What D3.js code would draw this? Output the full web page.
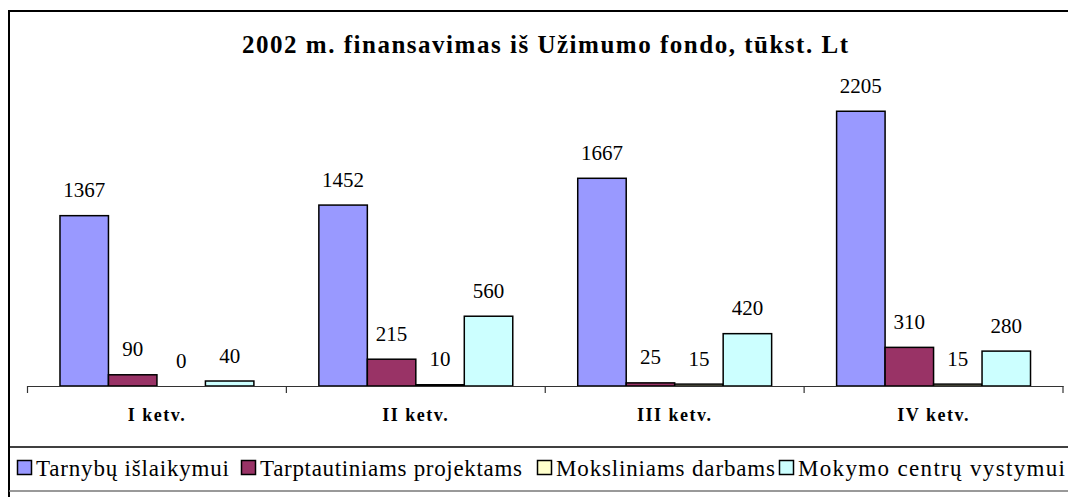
<!DOCTYPE html>
<html>
<head>
<meta charset="utf-8">
<script src="https://cdn.jsdelivr.net/npm/d3@7"></script>
</head>
<body style="margin:0">
<svg id="chart" width="1068" height="497" font-family="Liberation Serif" style="display:block"></svg>
<script>
// ── Data ──────────────────────────────────────────────────────────────────
const title = '2002 m. finansavimas iš Užimumo fondo, tūkst. Lt';
const quarters = ['I ketv.', 'II ketv.', 'III ketv.', 'IV ketv.'];
const seriesNames = ['Tarnybų išlaikymui', 'Tarptautiniams projektams', 'Moksliniams darbams', 'Mokymo centrų vystymui'];
const seriesColors = ['#9999ff', '#993366', '#ffffcc', '#ccffff'];
const tarnybu = [1367, 1452, 1667, 2205];
const tarptautiniams = [90, 215, 25, 310];
const moksliniams = [0, 10, 15, 15];
const mokymo = [40, 560, 420, 280];
const seriesValues = [tarnybu, tarptautiniams, moksliniams, mokymo];
const yMax = 2500;

const svg = d3.select('#chart');

function serif(sel) {
  return sel.attr('font-family', 'Liberation Serif').style('font-family', '"Liberation Serif"');
}

// chart frame (right and bottom edges fall outside the picture)
svg.append('rect')
  .attr('x', 9).attr('y', 11)
  .attr('width', 1100).attr('height', 520)
  .attr('fill', 'none').attr('stroke', '#000').attr('stroke-width', 2);

// title
serif(svg.append('text'))
  .attr('x', 545).attr('y', 53)
  .attr('text-anchor', 'middle')
  .attr('font-size', 25).attr('font-weight', 'bold')
  .attr('textLength', 606).attr('lengthAdjust', 'spacing')
  .text(title);

// ── Scales ────────────────────────────────────────────────────────────────
const x0 = d3.scaleBand().domain(quarters).range([27.5, 1063]).padding(0);
const x1 = d3.scaleBand().domain(seriesNames).range([0, x0.bandwidth()])
  .paddingInner(0).paddingOuter(0.67);
const y = d3.scaleLinear().domain([0, yMax]).range([386, 74.5]);

const g = svg.append('g');

// bars + value labels
const groups = g.selectAll('.grp')
  .data(quarters)
  .enter().append('g')
  .attr('class', 'grp')
  .attr('transform', q => `translate(${x0(q)},0)`);

groups.each(function (q, qi) {
  const cells = seriesNames.map((s, si) => ({ s, si, v: seriesValues[si][qi] }));
  const sel = d3.select(this);

  sel.selectAll('rect')
    .data(cells.filter(c => c.v > 0))
    .enter().append('rect')
    .attr('x', c => x1(c.s))
    .attr('y', c => y(c.v))
    .attr('width', x1.bandwidth())
    .attr('height', c => y(0) - y(c.v))
    .attr('fill', c => seriesColors[c.si])
    .attr('stroke', '#000')
    .attr('stroke-width', 1.5);

  serif(sel.selectAll('text')
    .data(cells)
    .enter().append('text'))
    .attr('x', c => x1(c.s) + x1.bandwidth() / 2)
    .attr('y', c => y(c.v) - 18.5)
    .attr('text-anchor', 'middle')
    .attr('font-size', 21)
    .text(c => c.v);
});

// category axis
const axis = g.append('g')
  .attr('transform', 'translate(0,386)')
  .call(d3.axisBottom(x0).tickSize(0).tickPadding(0))
  .attr('font-family', 'Liberation Serif');
axis.select('.domain').attr('stroke', '#333').attr('stroke-width', 1.2);
serif(axis.selectAll('.tick text'))
  .attr('dy', 0).attr('y', 35)
  .attr('font-size', 18).attr('font-weight', 'bold')
  .attr('letter-spacing', 1.5)
  .attr('fill', '#000');

// category boundary ticks
const bounds = quarters.map(q => x0(q)).concat([x0.range()[1]]);
g.selectAll('.bnd')
  .data(bounds)
  .enter().append('line')
  .attr('class', 'bnd')
  .attr('x1', d => d).attr('x2', d => d)
  .attr('y1', 386).attr('y2', 393)
  .attr('stroke', '#333').attr('stroke-width', 1.2);

// ── Legend ────────────────────────────────────────────────────────────────
svg.append('line')
  .attr('x1', 9).attr('x2', 1068).attr('y1', 447).attr('y2', 447)
  .attr('stroke', '#000').attr('stroke-width', 1.5);
svg.append('line')
  .attr('x1', 9).attr('x2', 1068).attr('y1', 491).attr('y2', 491)
  .attr('stroke', '#777').attr('stroke-width', 1.5);

const legendX = [17, 241, 537, 779];
const legendW = [193, 262, 219, 267];
const leg = svg.selectAll('.leg')
  .data(seriesNames)
  .enter().append('g')
  .attr('class', 'leg')
  .attr('transform', (d, i) => `translate(${legendX[i]},460)`);
leg.append('rect')
  .attr('x', 0.5).attr('y', 0.5)
  .attr('width', 14).attr('height', 14)
  .attr('fill', (d, i) => seriesColors[i])
  .attr('stroke', '#000').attr('stroke-width', 1.5);
serif(leg.append('text'))
  .attr('x', 19).attr('y', 16)
  .attr('font-size', 23)
  .attr('textLength', (d, i) => legendW[i]).attr('lengthAdjust', 'spacing')
  .text(d => d);
</script>
</body>
</html>
